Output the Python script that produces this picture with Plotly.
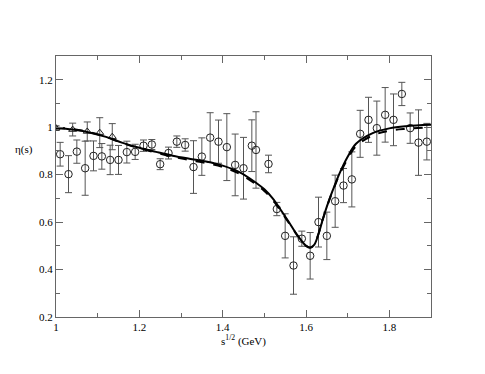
import plotly.graph_objects as go

# circle data points
x_data = [1.01, 1.03, 1.05, 1.07, 1.09, 1.11, 1.13, 1.15, 1.17, 1.19,
          1.21, 1.23, 1.25, 1.27, 1.29, 1.31, 1.33, 1.35, 1.37, 1.39,
          1.41, 1.43, 1.45, 1.47, 1.48, 1.51, 1.53, 1.55, 1.57, 1.59,
          1.61, 1.63, 1.65, 1.67, 1.69, 1.71, 1.73, 1.75, 1.77, 1.79,
          1.81, 1.83, 1.85, 1.87, 1.89]
y_data = [0.886, 0.802, 0.897, 0.827, 0.879, 0.877, 0.862, 0.862, 0.895, 0.896,
          0.922, 0.927, 0.844, 0.891, 0.939, 0.925, 0.832, 0.876, 0.956, 0.939,
          0.916, 0.841, 0.827, 0.922, 0.904, 0.845, 0.655, 0.542, 0.417, 0.530,
          0.458, 0.600, 0.542, 0.688, 0.754, 0.780, 0.972, 1.031, 0.996, 1.052,
          1.031, 1.140, 0.996, 0.935, 0.939]
y_err = [0.050, 0.078, 0.049, 0.114, 0.063, 0.054, 0.062, 0.061, 0.046, 0.032,
         0.024, 0.021, 0.023, 0.025, 0.024, 0.026, 0.111, 0.079, 0.105, 0.091,
         0.141, 0.130, 0.130, 0.109, 0.161, 0.037, 0.028, 0.093, 0.121, 0.032,
         0.098, 0.105, 0.100, 0.110, 0.072, 0.116, 0.099, 0.095, 0.114, 0.115,
         0.109, 0.049, 0.064, 0.138, 0.077]

# triangle data points
x_tri = [1.0, 1.04, 1.075, 1.105, 1.135]
y_tri = [0.996, 0.990, 0.982, 0.977, 0.960]
err_tri = [0.010, 0.027, 0.040, 0.063, 0.055]

# model curves
x_curve = [1.0, 1.04, 1.08, 1.12, 1.16, 1.20, 1.24, 1.28, 1.32, 1.36,
           1.40, 1.44, 1.48, 1.50, 1.52, 1.54, 1.56, 1.58, 1.60, 1.61,
           1.62, 1.63, 1.64, 1.65, 1.66, 1.67, 1.68, 1.70, 1.72, 1.76,
           1.80, 1.84, 1.90]
y_solid = [0.997, 0.990, 0.978, 0.959, 0.934, 0.913, 0.896, 0.880, 0.867, 0.855,
           0.838, 0.811, 0.766, 0.738, 0.700, 0.650, 0.597, 0.543, 0.500, 0.492,
           0.505, 0.550, 0.610, 0.665, 0.715, 0.760, 0.803, 0.875, 0.930, 0.975,
           0.995, 1.004, 1.010]
y_dashed = [0.999, 0.992, 0.979, 0.959, 0.933, 0.911, 0.893, 0.876, 0.862, 0.849,
            0.832, 0.804, 0.759, 0.731, 0.694, 0.645, 0.594, 0.542, 0.500, 0.493,
            0.506, 0.551, 0.610, 0.664, 0.713, 0.757, 0.799, 0.867, 0.920, 0.965,
            0.985, 0.993, 0.999]

serif = "Times New Roman, Liberation Serif, DejaVu Serif, serif"

fig = go.Figure()

fig.add_trace(go.Scatter(
    x=x_data, y=y_data, mode='markers',
    marker=dict(symbol='circle-open', size=7.5, color='#222', line=dict(width=1)),
    error_y=dict(type='data', array=y_err, color='#555', thickness=1, width=3.5),
    showlegend=False))

fig.add_trace(go.Scatter(
    x=x_tri, y=y_tri, mode='markers',
    marker=dict(symbol='triangle-up-open', size=7, color='#222', line=dict(width=1)),
    error_y=dict(type='data', array=err_tri, color='#555', thickness=1, width=3.5),
    showlegend=False))

fig.add_trace(go.Scatter(
    x=x_curve, y=y_dashed, mode='lines', line=dict(color='black', width=2, dash='dash', shape='spline'),
    showlegend=False))

fig.add_trace(go.Scatter(
    x=x_curve, y=y_solid, mode='lines', line=dict(color='black', width=2, shape='spline'),
    showlegend=False))

axis_common = dict(
    showline=True, linecolor='#666', linewidth=1, mirror='allticks',
    ticks='inside', ticklen=7, tickcolor='#666', tickwidth=1,
    showgrid=False, zeroline=False,
    tickfont=dict(family=serif, size=11, color='black'),
    minor=dict(ticks='inside', ticklen=4, dtick=0.1, tickcolor='#666', showgrid=False),
)

# page body adds an 8px offset, so the figure is a bit smaller than the window
fig.update_layout(
    width=477, height=366,
    margin=dict(l=48, r=54, t=48, b=57),
    font=dict(family=serif),
    paper_bgcolor='white', plot_bgcolor='white',
    xaxis=dict(range=[1.0, 1.9], dtick=0.2, tick0=1.0,
               title=dict(text='s<sup>1/2</sup> (GeV)', font=dict(family=serif, size=11, color='black'), standoff=4),
               **axis_common),
    yaxis=dict(range=[0.2, 1.3], dtick=0.2, tick0=0.2, **axis_common),
    annotations=[dict(text='η(s)', x=-0.055, y=0.64, xref='paper', yref='paper',
                      xanchor='right', yanchor='middle', showarrow=False,
                      font=dict(family=serif, size=11, color='black'))],
)

fig.write_html("out.html")
